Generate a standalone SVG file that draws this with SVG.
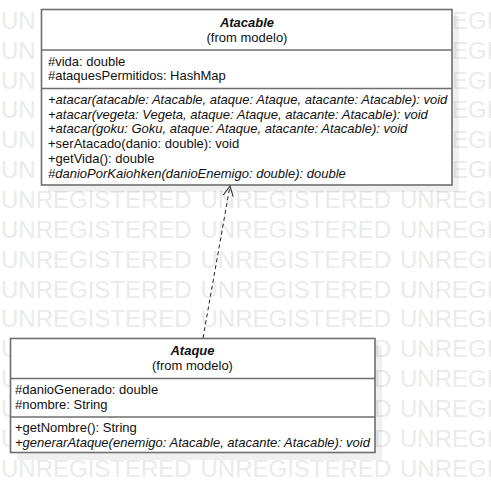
<svg xmlns="http://www.w3.org/2000/svg" width="491" height="493" viewBox="0 0 491 493">
  <style>
    .wm { font-family: "Liberation Sans", Arial, sans-serif; font-size: 24px; fill: #ebebeb; }
    .box { fill: #ffffff; stroke: #6e6e6e; stroke-width: 1.6; }
    .sep { stroke: #6e6e6e; stroke-width: 1.6; }
    .shadow { fill: #000000; fill-opacity: 0.06; }
    .t { font-family: "Liberation Sans", Arial, sans-serif; font-size: 13px; fill: #111111; }
    .title { font-weight: bold; font-style: italic; text-anchor: middle; }
    .from { text-anchor: middle; }
    .it { font-style: italic; }
    .conn { fill: none; stroke: #222222; stroke-width: 1; }
  </style>
  <defs>
    <marker id="open" markerWidth="12" markerHeight="12" refX="10" refY="5" orient="auto" markerUnits="userSpaceOnUse">
      <path d="M0,0 L10,5 L0,10" fill="none" stroke="#222222" stroke-width="1"/>
    </marker>
  </defs>
  <rect width="491" height="493" fill="#ffffff"/>
  <g id="watermark" class="wm">
    <text x="1" y="29">UN</text><text x="452" y="29">EGI</text>
    <text x="1" y="59">UN</text><text x="452" y="59">EGI</text>
    <text x="1" y="89">UN</text><text x="452" y="89">EGI</text>
    <text x="1" y="118">UN</text><text x="452" y="118">EGI</text>
    <text x="1" y="148">UN</text><text x="452" y="148">EGI</text>
    <text x="1" y="178">UN</text><text x="452" y="178">EGI</text>
    <text x="1" y="208">UNREGISTERED</text><text x="200.5" y="208">UNREGISTERED</text><text x="400" y="208">UNREGI</text>
    <text x="1" y="238">UNREGISTERED</text><text x="200.5" y="238">UNREGISTERED</text><text x="400" y="238">UNREGI</text>
    <text x="1" y="268">UNREGISTERED</text><text x="200.5" y="268">UNREGISTERED</text><text x="400" y="268">UNREGI</text>
    <text x="1" y="298">UNREGISTERED</text><text x="200.5" y="298">UNREGISTERED</text><text x="400" y="298">UNREGI</text>
    <text x="1" y="327">UNREGISTERED</text><text x="200.5" y="327">UNREGISTERED</text><text x="400" y="327">UNREGI</text>
    <text x="1" y="357">U</text><text x="373.9" y="357">D</text><text x="400" y="357">UNREGI</text>
    <text x="1" y="387">U</text><text x="373.9" y="387">D</text><text x="400" y="387">UNREGI</text>
    <text x="1" y="417">U</text><text x="373.9" y="417">D</text><text x="400" y="417">UNREGI</text>
    <text x="1" y="447">U</text><text x="373.9" y="447">D</text><text x="400" y="447">UNREGI</text>
    <text x="1" y="477">UNREGISTERED</text><text x="200.5" y="477">UNREGISTERED</text><text x="400" y="477">UNREGI</text>
  </g>
  <g id="node-atacable">
    <rect class="shadow" x="48" y="16" width="411" height="176"/>
    <rect class="box" x="41.5" y="9.5" width="410.5" height="175.5"/>
    <line class="sep" x1="41.5" y1="50" x2="452" y2="50"/>
    <line class="sep" x1="41.5" y1="88.5" x2="452" y2="88.5"/>
    <text class="t title" x="247" y="27">Atacable</text>
    <text class="t from" x="247" y="42">(from modelo)</text>
    <text class="t" x="48" y="65.5">#vida: double</text>
    <text class="t" x="48" y="80">#ataquesPermitidos: HashMap</text>
    <text class="t it" x="48" y="104">+atacar(atacable: Atacable, ataque: Ataque, atacante: Atacable): void</text>
    <text class="t it" x="48" y="118.5">+atacar(vegeta: Vegeta, ataque: Ataque, atacante: Atacable): void</text>
    <text class="t it" x="48" y="133">+atacar(goku: Goku, ataque: Ataque, atacante: Atacable): void</text>
    <text class="t" x="48" y="148">+serAtacado(danio: double): void</text>
    <text class="t" x="48" y="163">+getVida(): double</text>
    <text class="t it" x="48" y="178">#danioPorKaiohken(danioEnemigo: double): double</text>
  </g>
  <g id="node-ataque">
    <rect class="shadow" x="17" y="345" width="365" height="115"/>
    <rect class="box" x="10.5" y="338.5" width="364.5" height="114"/>
    <line class="sep" x1="10.5" y1="378.5" x2="375" y2="378.5"/>
    <line class="sep" x1="10.5" y1="417" x2="375" y2="417"/>
    <text class="t title" x="192.5" y="355">Ataque</text>
    <text class="t from" x="192.5" y="370">(from modelo)</text>
    <text class="t" x="15" y="394">#danioGenerado: double</text>
    <text class="t" x="15" y="408.5">#nombre: String</text>
    <text class="t" x="15" y="432">+getNombre(): String</text>
    <text class="t it" x="15" y="446.5">+generarAtaque(enemigo: Atacable, atacante: Atacable): void</text>
  </g>
  <g id="connectors">
    <line class="conn" x1="203" y1="338" x2="230" y2="186" stroke-dasharray="4,3" marker-end="url(#open)"/>
  </g>
</svg>
